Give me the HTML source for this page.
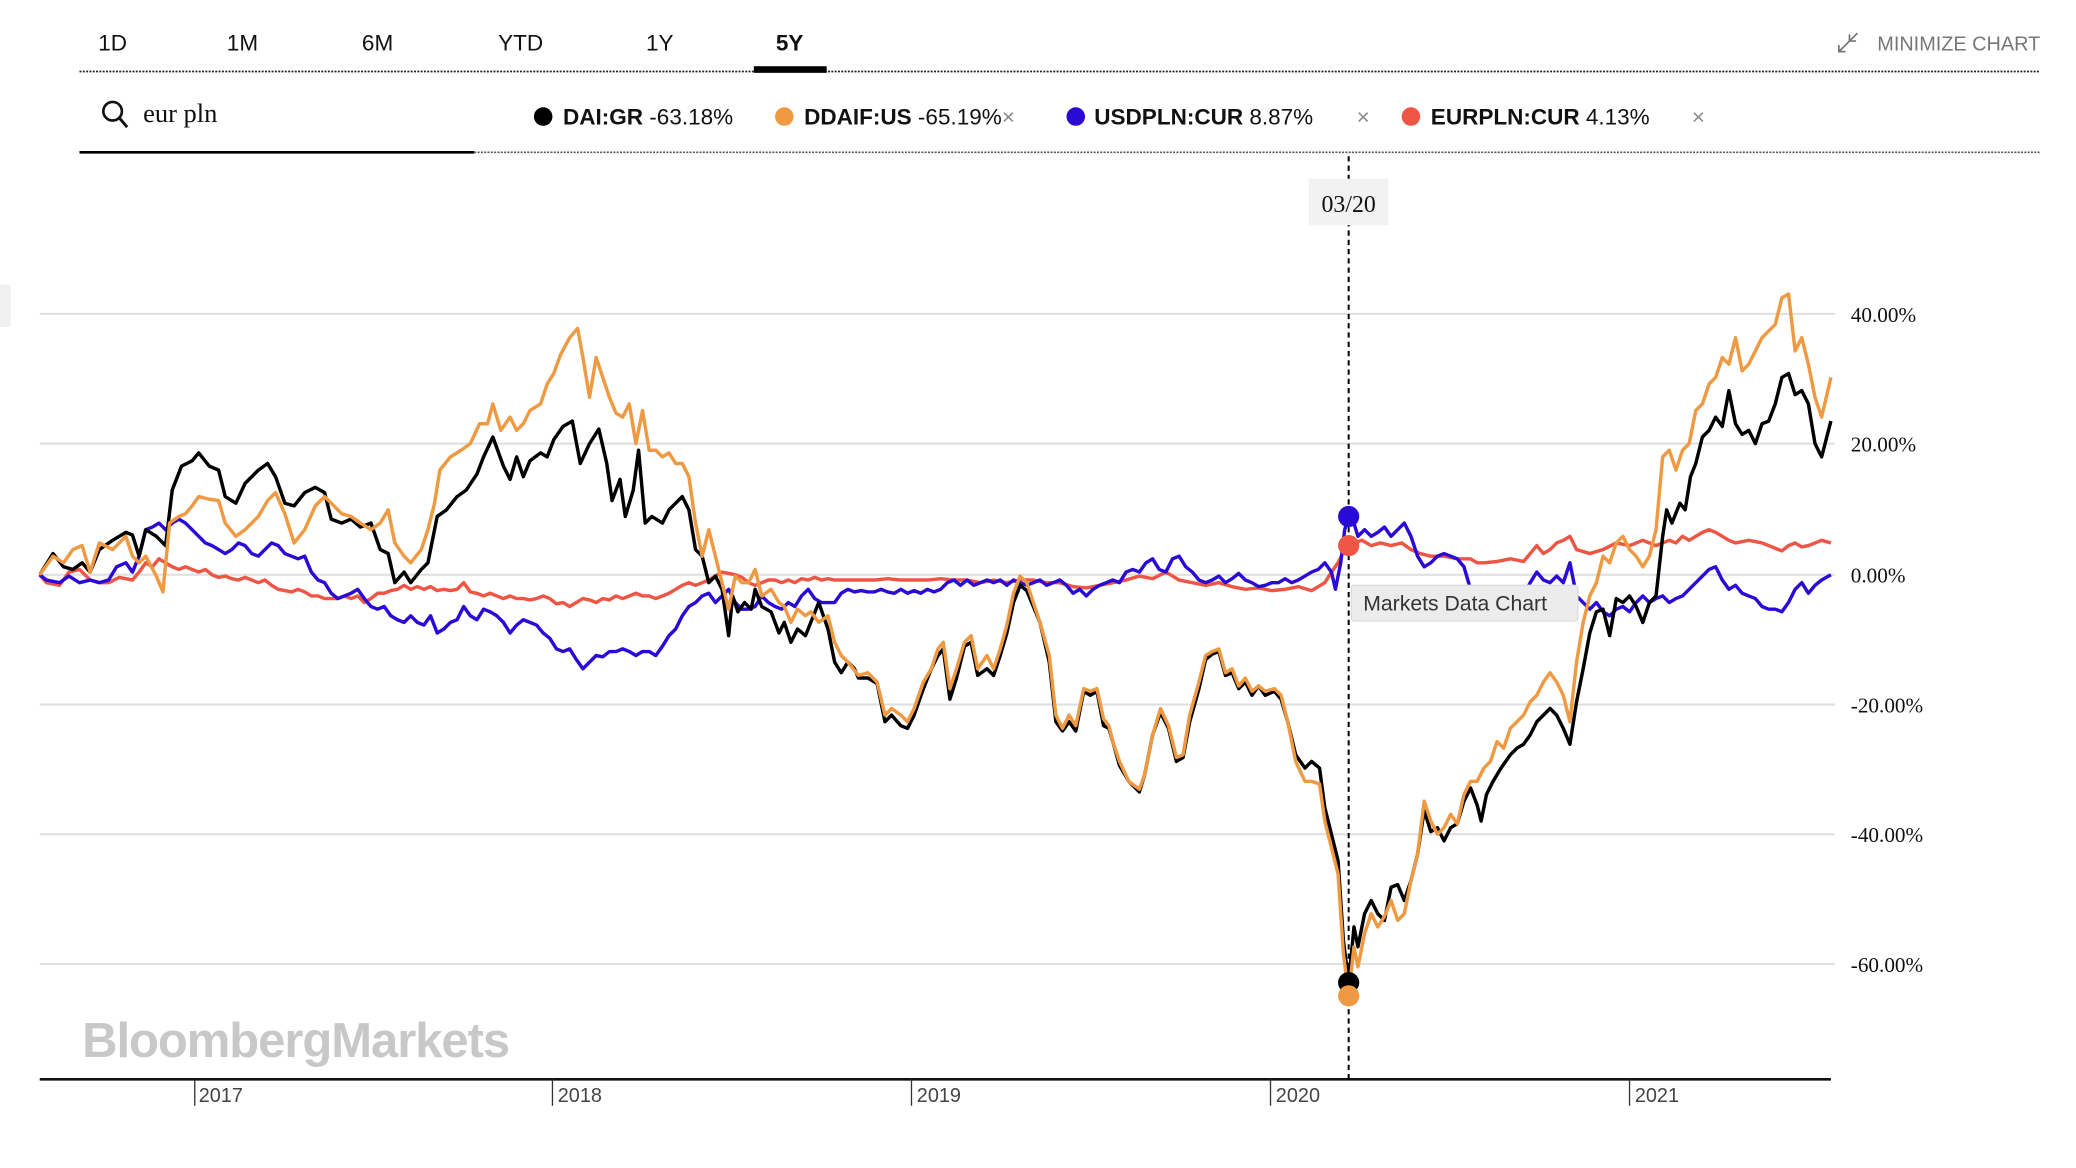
<!DOCTYPE html>
<html><head><meta charset="utf-8"><style>
html,body{margin:0;padding:0;background:#fff;}
svg{display:block;}
</style></head><body>
<svg width="2076" height="1168" viewBox="0 0 1567 882" preserveAspectRatio="none" xmlns="http://www.w3.org/2000/svg">
<rect width="1567" height="882" fill="#fff"/>
<g font-family="Liberation Sans, sans-serif" font-size="17" fill="#111" text-anchor="middle">
<text x="85" y="38">1D</text><text x="183" y="38">1M</text><text x="285" y="38">6M</text>
<text x="393" y="38">YTD</text><text x="498" y="38">1Y</text><text x="596" y="38" font-weight="bold">5Y</text>
</g>
<line x1="60" y1="54" x2="1540" y2="54" stroke="#222" stroke-width="1.3" stroke-dasharray="1.5 1"/>
<rect x="569" y="50" width="55" height="5" fill="#000"/>
<text x="1540" y="38" font-family="Liberation Sans, sans-serif" font-size="15" fill="#777" text-anchor="end">MINIMIZE CHART</text>
<g stroke="#777" stroke-width="1.3" fill="none"><path d="M1388 39 L1396 31 M1388 34 L1388 39 L1393 39 M1402 25 L1396 31 M1396 26 L1396 31 L1401 31"/></g>
<circle cx="85" cy="84" r="7" stroke="#111" stroke-width="2" fill="none"/>
<line x1="90" y1="89" x2="96" y2="96" stroke="#111" stroke-width="2.2"/>
<text x="108" y="92" font-family="Liberation Serif, serif" font-size="20" fill="#111">eur pln</text>
<line x1="60" y1="115" x2="358" y2="115" stroke="#000" stroke-width="2"/>
<line x1="358" y1="115" x2="1540" y2="115" stroke="#555" stroke-width="1.2" stroke-dasharray="1.5 1"/>
<g font-family="Liberation Sans, sans-serif" font-size="17" fill="#111">
<circle cx="410" cy="88" r="7" fill="#000"/><text x="425" y="94"><tspan font-weight="bold">DAI:GR</tspan> -63.18%</text>
<circle cx="592" cy="88" r="7" fill="#ef9a42"/><text x="607" y="94"><tspan font-weight="bold">DDAIF:US</tspan> -65.19%<tspan fill="#888">×</tspan></text>
<circle cx="812" cy="88" r="7" fill="#2a0bd6"/><text x="826" y="94"><tspan font-weight="bold">USDPLN:CUR</tspan> 8.87%</text><text x="1024" y="94" fill="#888">×</text>
<circle cx="1065" cy="88" r="7" fill="#ee5544"/><text x="1080" y="94"><tspan font-weight="bold">EURPLN:CUR</tspan> 4.13%</text><text x="1277" y="94" fill="#888">×</text>
</g>
<rect x="0" y="215" width="8" height="32" fill="#f0f0f0"/>
<g stroke="#dedede" stroke-width="1.5">
<line x1="30" y1="237" x2="1385" y2="237"/><line x1="30" y1="335" x2="1385" y2="335"/><line x1="30" y1="434" x2="1385" y2="434"/>
<line x1="30" y1="532" x2="1385" y2="532"/><line x1="30" y1="630" x2="1385" y2="630"/><line x1="30" y1="728" x2="1385" y2="728"/>
</g>
<g font-family="Liberation Serif, serif" font-size="16" fill="#111">
<text x="1397" y="243">40.00%</text><text x="1397" y="341">20.00%</text><text x="1397" y="440">0.00%</text>
<text x="1397" y="538">-20.00%</text><text x="1397" y="636">-40.00%</text><text x="1397" y="734">-60.00%</text>
</g>
<text x="62" y="798" font-family="Liberation Sans, sans-serif" font-weight="bold" font-size="37" fill="#c8c8c8" letter-spacing="-0.8">BloombergMarkets</text>
<line x1="30" y1="815" x2="1382" y2="815" stroke="#111" stroke-width="2"/>
<g stroke="#333" stroke-width="1"><line x1="147" y1="815" x2="147" y2="835"/><line x1="417" y1="815" x2="417" y2="835"/><line x1="688" y1="815" x2="688" y2="835"/><line x1="959" y1="815" x2="959" y2="835"/><line x1="1230" y1="815" x2="1230" y2="835"/></g>
<g font-family="Liberation Sans, sans-serif" font-size="15" fill="#444">
<text x="150" y="832">2017</text><text x="421" y="832">2018</text><text x="692" y="832">2019</text><text x="963" y="832">2020</text><text x="1234" y="832">2021</text>
</g>
<g fill="none" stroke-width="2.6" stroke-linejoin="round">
<polyline stroke="#ee5544" points="30,434 35,440 45,442 52,432 60,430 68,438 75,440 82,440 90,436 95,437 100,438 105,432 110,425 115,428 120,422 125,425 130,428 135,430 140,428 145,430 150,432 155,430 160,434 165,436 170,435 175,437 180,438 185,436 190,438 195,440 200,438 205,442 210,445 215,446 220,447 225,445 230,447 235,450 240,450 245,452 250,452 255,452 260,450 265,452 270,450 275,455 280,452 285,448 290,448 295,446 300,445 305,442 310,445 315,443 320,445 325,443 330,446 335,445 340,446 345,445 350,440 355,447 360,448 365,450 370,448 375,450 380,452 385,450 390,452 395,452 400,453 405,452 410,450 415,452 420,456 425,455 430,458 435,455 440,452 445,453 450,455 455,452 460,453 465,450 470,452 475,450 480,448 485,450 490,450 495,452 500,450 505,448 510,445 515,442 520,440 525,442 530,440 535,438 540,435 545,432 550,433 555,434 560,436 565,440 570,442 575,440 580,438 585,438 590,440 595,438 600,440 605,437 610,438 615,436 620,438 625,437 630,438 640,438 650,438 660,438 670,437 680,438 690,438 700,438 710,437 720,438 730,438 740,440 750,438 760,440 770,438 780,438 790,440 800,440 810,443 820,444 830,442 840,440 850,438 860,435 870,437 880,432 890,438 900,440 910,442 920,440 930,443 940,445 950,444 960,446 970,445 980,443 990,446 1000,440 1005,432 1010,425 1015,415 1018,412 1022,410 1028,408 1035,412 1042,410 1050,412 1058,410 1065,415 1072,418 1080,420 1090,420 1100,422 1110,422 1115,425 1120,425 1130,424 1140,422 1150,424 1155,418 1160,412 1165,418 1170,415 1175,410 1180,408 1185,405 1190,415 1200,418 1210,415 1220,410 1230,412 1240,408 1250,412 1255,410 1260,408 1265,410 1270,405 1275,408 1280,405 1285,402 1290,400 1295,402 1300,405 1305,408 1310,410 1320,408 1330,410 1340,414 1345,416 1350,412 1355,410 1360,413 1365,412 1370,410 1375,408 1382,410"/>
<polyline stroke="#2a0bd6" points="30,434 35,438 45,440 52,435 60,440 68,438 75,440 82,438 88,428 95,425 100,432 105,420 110,400 115,398 120,395 125,400 130,395 135,392 140,395 145,400 150,405 155,410 160,412 165,415 170,418 175,415 180,410 185,412 190,418 195,420 200,415 205,410 210,412 215,418 220,420 225,422 230,420 235,432 240,438 245,440 250,448 255,452 260,450 265,448 270,445 275,452 280,458 285,460 290,458 295,465 300,468 305,470 310,465 315,470 320,472 325,465 330,478 335,475 340,470 345,468 350,458 355,465 360,468 365,460 370,462 375,465 380,470 385,478 390,472 395,468 400,470 405,472 410,478 415,482 420,490 425,492 430,490 435,498 440,505 445,500 450,495 455,496 460,492 465,492 470,490 475,492 480,495 485,492 490,492 495,495 500,488 505,480 510,475 515,465 520,458 525,455 530,450 535,448 540,455 545,450 550,445 555,455 560,460 565,460 570,458 575,450 580,455 585,458 590,460 595,455 600,458 605,450 610,445 615,452 620,455 625,455 630,455 635,448 640,445 645,447 650,446 655,447 660,447 665,445 670,447 675,448 680,445 685,448 690,446 695,448 700,445 705,447 710,445 715,440 720,438 725,442 730,438 735,442 740,440 745,438 750,440 755,438 760,442 765,438 770,440 775,442 780,440 785,438 790,442 795,440 800,438 805,442 810,448 815,445 820,450 825,445 830,442 835,440 840,438 845,440 850,432 855,430 860,432 865,425 870,422 875,430 880,432 885,422 890,420 895,428 900,432 905,438 910,440 915,438 920,435 925,440 930,437 935,433 940,438 945,440 950,443 955,442 960,440 965,440 970,437 975,440 980,438 985,435 990,432 995,430 1000,425 1005,432 1008,445 1012,425 1015,400 1018,390 1022,395 1025,405 1030,400 1035,405 1040,402 1045,398 1050,405 1055,400 1060,395 1065,405 1070,420 1075,428 1080,425 1085,420 1090,418 1095,420 1100,422 1105,428 1110,445 1130,455 1150,450 1155,440 1160,432 1165,438 1170,440 1175,435 1180,440 1185,425 1190,450 1195,455 1200,460 1205,455 1210,462 1215,465 1220,460 1225,458 1230,462 1235,455 1240,450 1245,455 1250,452 1255,450 1260,455 1265,452 1270,450 1275,445 1280,440 1285,435 1290,430 1295,428 1300,438 1305,445 1310,442 1315,448 1320,450 1325,452 1330,458 1335,460 1340,460 1345,462 1350,455 1355,445 1360,440 1365,448 1370,442 1375,438 1382,434"/>
<polyline stroke="#000" points="30,434 40,418 48,428 55,430 62,425 68,432 75,415 85,408 95,402 100,404 105,420 110,400 118,405 125,412 130,370 137,352 145,348 150,342 158,352 165,355 170,375 178,380 185,365 195,355 202,350 208,360 215,380 222,382 230,372 238,368 245,372 250,392 258,395 265,392 272,398 280,395 287,415 293,418 298,440 305,432 310,440 318,430 323,425 330,390 337,385 345,375 352,370 360,358 365,345 372,330 380,352 385,362 390,345 395,360 400,348 408,342 413,345 418,332 425,322 432,318 438,350 445,335 452,324 458,350 462,378 468,362 472,390 478,370 482,340 487,395 492,390 500,395 505,385 510,380 515,375 520,385 525,415 530,420 535,440 540,435 545,445 550,480 553,450 557,462 562,455 567,460 570,445 575,458 582,462 588,478 592,470 597,485 602,475 608,480 612,470 618,455 625,475 630,500 635,508 640,500 645,505 648,512 655,512 662,516 668,545 673,540 680,548 685,550 690,540 697,520 703,505 708,495 712,490 717,528 722,512 728,488 733,485 738,510 745,505 750,510 755,495 760,478 765,455 770,442 775,446 785,470 792,500 797,545 802,552 807,545 812,552 818,522 823,525 828,522 833,548 837,550 840,560 845,578 852,590 860,598 864,585 870,555 876,538 882,550 888,575 893,572 898,545 905,520 910,498 915,494 920,492 925,510 930,508 935,520 940,515 945,525 950,518 955,525 962,522 967,528 972,545 978,570 985,580 990,575 996,580 1000,610 1005,630 1010,650 1014,710 1018,742 1022,700 1025,715 1030,690 1035,680 1040,690 1045,695 1050,670 1055,668 1060,680 1065,665 1070,645 1075,612 1080,628 1085,625 1090,635 1095,625 1100,622 1105,605 1110,595 1115,608 1118,620 1122,600 1127,590 1133,580 1140,570 1145,565 1150,562 1155,555 1160,545 1165,540 1170,535 1175,540 1180,550 1185,562 1190,530 1195,505 1200,478 1205,462 1210,460 1215,480 1220,452 1225,455 1230,450 1235,458 1240,470 1245,455 1250,450 1255,405 1258,385 1262,395 1268,380 1272,385 1276,360 1280,350 1285,330 1290,325 1295,315 1300,322 1305,295 1310,320 1315,328 1320,325 1325,335 1330,320 1335,318 1340,305 1345,285 1350,282 1355,298 1360,295 1365,305 1370,335 1375,345 1382,318"/>
<polyline stroke="#ef9a42" points="30,434 40,420 48,425 55,415 62,412 68,432 75,410 85,415 95,405 100,420 105,425 110,420 118,435 123,447 128,395 135,390 140,388 145,382 150,375 158,377 165,378 170,395 178,405 185,400 195,390 202,378 208,372 215,388 222,410 230,400 238,382 245,375 250,380 258,388 265,390 272,395 280,400 287,395 293,385 298,410 305,420 310,425 318,415 323,400 328,380 332,355 340,345 348,340 355,335 362,320 368,320 372,305 378,325 385,315 390,325 395,320 400,310 408,305 413,290 418,282 423,268 430,255 436,248 440,270 445,300 450,270 455,285 460,300 465,312 470,315 475,305 480,335 485,310 490,340 495,340 500,345 505,342 510,350 515,350 520,360 525,395 530,420 535,400 540,420 545,440 550,460 555,435 560,440 565,440 570,430 575,450 582,445 588,455 592,458 597,470 602,460 608,465 612,462 618,470 625,465 630,485 635,495 640,500 648,510 655,508 662,515 668,540 673,535 680,540 685,545 690,535 697,515 703,505 708,490 712,485 717,520 722,505 728,485 733,480 738,505 745,495 750,505 755,490 760,472 765,448 770,435 775,440 785,470 792,495 797,540 802,550 807,540 812,548 818,520 823,522 828,520 833,543 837,548 840,560 845,575 852,590 860,596 864,585 870,555 876,535 882,548 888,572 893,570 898,540 905,515 910,495 915,492 920,490 925,508 930,505 935,518 940,512 945,522 950,518 955,522 962,520 967,525 972,545 978,575 985,590 990,590 996,592 1000,620 1005,640 1010,660 1014,720 1018,752 1022,715 1025,730 1030,705 1035,690 1040,700 1045,692 1050,680 1055,695 1060,690 1065,665 1070,645 1075,605 1080,620 1085,630 1090,625 1095,615 1100,622 1105,600 1110,590 1115,590 1120,580 1125,575 1130,560 1135,565 1140,550 1145,545 1150,540 1155,530 1160,525 1165,515 1170,508 1175,515 1180,525 1185,545 1190,500 1195,470 1200,450 1205,440 1210,420 1215,425 1220,410 1225,405 1230,415 1235,420 1240,428 1245,420 1250,400 1255,345 1260,340 1265,355 1270,340 1275,335 1280,310 1285,305 1290,290 1295,285 1300,270 1305,275 1310,255 1315,280 1320,275 1325,265 1330,255 1335,250 1340,245 1345,225 1350,222 1355,265 1360,255 1365,275 1370,300 1375,315 1382,285"/>
</g>
<line x1="1018" y1="118" x2="1018" y2="815" stroke="#000" stroke-width="1.5" stroke-dasharray="4 3"/>
<circle cx="1018" cy="390" r="8" fill="#2a0bd6"/>
<circle cx="1018" cy="412" r="8" fill="#ee5544"/>
<circle cx="1018" cy="742" r="8" fill="#000"/>
<circle cx="1018" cy="752" r="8" fill="#ef9a42"/>
<rect x="988" y="135" width="60" height="35" fill="#f2f2f2"/>
<text x="1018" y="160" font-family="Liberation Serif, serif" font-size="18" fill="#111" text-anchor="middle">03/20</text>
<rect x="1020" y="442" width="171" height="27" rx="2" fill="#ececec" stroke="#ddd"/>
<text x="1029" y="461" font-family="Liberation Sans, sans-serif" font-size="16" fill="#333">Markets Data Chart</text>
</svg>
</body></html>
